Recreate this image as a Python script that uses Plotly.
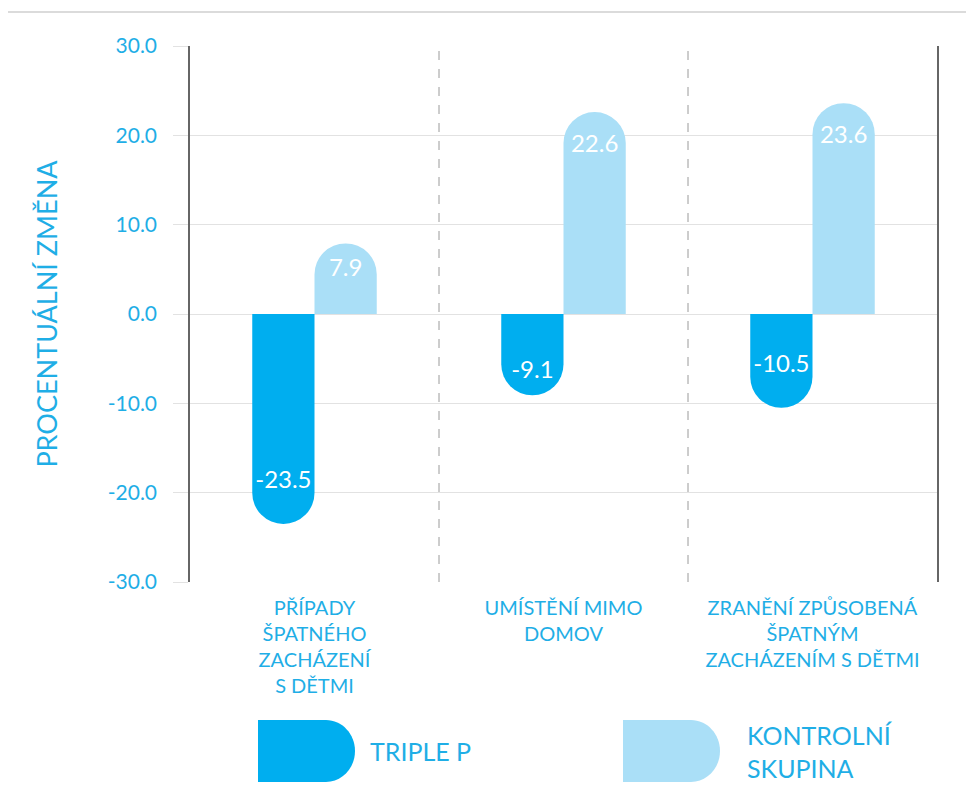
import plotly.graph_objects as go

categories = ["PŘÍPADY<br>ŠPATNÉHO<br>ZACHÁZENÍ<br>S DĚTMI",
              "UMÍSTĚNÍ MIMO<br>DOMOV",
              "ZRANĚNÍ ZPŮSOBENÁ<br>ŠPATNÝM<br>ZACHÁZENÍM S DĚTMI"]
triple_p = [-23.5, -9.1, -10.5]
kontrolni = [7.9, 22.6, 23.6]
series_names = ["TRIPLE P", "KONTROLNÍ<br>SKUPINA"]
y_ticks = [-30, -20, -10, 0, 10, 20, 30]
y_ticktext = ["-30.0", "-20.0", "-10.0", "0.0", "10.0", "20.0", "30.0"]

C_DARK = "#00AEEF"
C_LIGHT = "#AADFF7"
C_TEXT = "#1FAEE6"
FONT = "Lato"

fig = go.Figure()
for vals, col, name in [(triple_p, C_DARK, series_names[0]), (kontrolni, C_LIGHT, series_names[1])]:
    fig.add_trace(go.Bar(
        x=categories, y=vals, name=name,
        marker=dict(color=col, cornerradius="50%", line=dict(width=0)),
        texttemplate="%{y:.1f}", textposition="inside", insidetextanchor="end",
        textangle=0, textfont=dict(color="white", size=24, family=FONT),
        showlegend=False,
    ))

# page has an 8px body margin; figure is sized to fit the 974x790 window
W, H = 958, 774
L, R, T, B = 182, 29, 38, 200
pw, ph = W - L - R, H - T - B

shapes = []
# top rule
shapes.append(dict(type="line", xref="paper", yref="paper", x0=-L / pw, x1=(W - L) / pw,
                   y0=1 + (T - 4) / ph, y1=1 + (T - 4) / ph,
                   line=dict(color="#cfcfcf", width=1.5)))
# dashed separators
for xs in [0.5, 1.5]:
    shapes.append(dict(type="line", xref="x", yref="paper", x0=xs, x1=xs, y0=0, y1=1,
                       line=dict(color="#9a9a9a", width=1, dash="dash"), layer="below"))

annotations = []
# legend swatches
legend_items = [(250, C_DARK, 360, series_names[0]), (615, C_LIGHT, 737, series_names[1])]
for px, col, tx, label in legend_items:
    cy = 743
    shapes.append(dict(type="path", xref="paper", yref="paper",
                       xsizemode="pixel", ysizemode="pixel",
                       xanchor=(px - L) / pw, yanchor=(H - B - cy) / ph,
                       path="M0,-31 L68,-31 C84,-31 97,-17 97,0 C97,17 84,31 68,31 L0,31 Z",
                       fillcolor=col, line=dict(width=0)))
    annotations.append(dict(xref="paper", yref="paper", x=(tx - L) / pw, y=(H - B - cy) / ph,
                            text=label, showarrow=False, xanchor="left", yanchor="middle",
                            align="left",
                            font=dict(color=C_TEXT, size=25, family=FONT)))

fig.update_layout(
    width=W, height=H,
    margin=dict(l=L, r=R, t=T, b=B, autoexpand=False),
    paper_bgcolor="white", plot_bgcolor="white",
    barmode="group", bargap=0.5, bargroupgap=0,
    shapes=shapes, annotations=annotations,
    font=dict(family=FONT, color=C_TEXT),
    xaxis=dict(showgrid=False, showline=False, ticks="", ticklabelstandoff=12,
               tickfont=dict(size=20, color=C_TEXT, family=FONT), zeroline=False),
    yaxis=dict(range=[-30, 30], tickvals=y_ticks, ticktext=y_ticktext,
               showgrid=True, gridcolor="#e2e2e2", gridwidth=1.2,
               zeroline=False, showline=True, linecolor="#666666", linewidth=1.5, mirror=True,
               ticks="outside", ticklen=15, tickcolor="#e2e2e2", tickwidth=1.2,
               ticklabelstandoff=12,
               tickfont=dict(size=21, color=C_TEXT, family=FONT),
               title=dict(text="PROCENTUÁLNÍ ZMĚNA", font=dict(size=27, color=C_TEXT, family=FONT),
                          standoff=42)),
)

fig.write_html("out.html")
